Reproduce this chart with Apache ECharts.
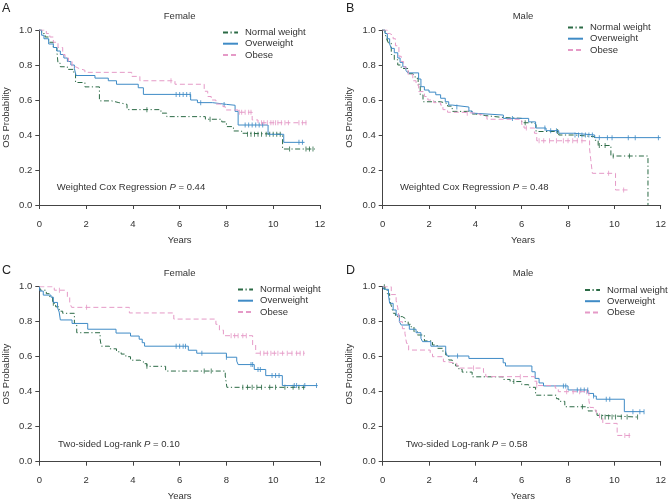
<!DOCTYPE html>
<html><head><meta charset="utf-8">
<script src="https://cdn.jsdelivr.net/npm/echarts@6/dist/echarts.min.js"></script>
<style>html,body{margin:0;padding:0;background:#fff}#c{width:669px;height:502px}</style>
</head><body><div id="c"></div>
<script>
// ---------------- DATA ----------------
const groups = ['Normal weight', 'Overweight', 'Obese'];
const xTicks = [0, 2, 4, 6, 8, 10, 12];
const yTicks = [0, 0.2, 0.4, 0.6, 0.8, 1.0];
const panelLetters = ['A', 'B', 'C', 'D'];
const panelTitles = ['Female', 'Male', 'Female', 'Male'];
const testNames = ['Weighted Cox Regression', 'Weighted Cox Regression', 'Two-sided Log-rank', 'Two-sided Log-rank'];
const testP = ['0.44', '0.48', '0.10', '0.58'];

// Kaplan-Meier steps: [time (years), survival from that time]
const A_normal = [[0,1],[0.1,0.98],[0.25,0.96],[0.4,0.93],[0.6,0.9],[0.75,0.88],[0.8,0.81],[0.9,0.79],[1.2,0.775],[1.45,0.76],[1.55,0.70],[1.95,0.675],[2.57,0.595],[3.1,0.585],[3.4,0.575],[3.75,0.545],[5.2,0.525],[5.45,0.505],[7.1,0.49],[7.8,0.475],[8.0,0.448],[8.3,0.423],[8.65,0.41],[8.8,0.404],[10.4,0.32],[11.78,0.32]];
const A_over = [[0,1],[0.1,0.97],[0.2,0.95],[0.4,0.92],[0.6,0.90],[0.75,0.88],[0.9,0.86],[1.05,0.84],[1.2,0.82],[1.35,0.80],[1.5,0.78],[1.57,0.74],[2.38,0.725],[2.95,0.71],[3.3,0.69],[4.23,0.67],[4.45,0.632],[6.47,0.60],[6.76,0.585],[7.4,0.575],[8.0,0.57],[8.37,0.535],[8.5,0.457],[9.78,0.404],[10.45,0.358],[11.34,0.358]];
const A_obese = [[0,1],[0.3,0.98],[0.45,0.96],[0.6,0.93],[0.8,0.90],[1.0,0.86],[1.1,0.84],[1.25,0.82],[1.4,0.79],[1.55,0.78],[1.7,0.77],[1.95,0.758],[3.95,0.735],[4.3,0.71],[5.8,0.69],[7.05,0.65],[7.2,0.62],[7.35,0.60],[7.55,0.577],[7.85,0.562],[7.95,0.543],[8.5,0.53],[9.1,0.486],[9.35,0.47],[11.42,0.47]];
const A_normal_cens = [4.6, 7.3, 8.9, 9.05, 9.2, 9.35, 9.5, 9.7, 9.85, 10.0, 10.15, 10.3, 10.7, 11.4, 11.55, 11.7];
const A_over_cens = [5.85, 6.0, 6.15, 6.3, 6.45, 6.9, 7.9, 8.8, 8.95, 9.1, 9.25, 9.4, 9.55, 11.1, 11.25];
const A_obese_cens = [5.63, 8.55, 8.65, 8.8, 8.95, 9.05, 9.5, 9.6, 9.75, 9.9, 10.0, 10.1, 10.2, 10.35, 10.5, 10.65, 11.1, 11.25, 11.4];

const B_normal = [[0,1],[0.1,0.98],[0.17,0.95],[0.25,0.925],[0.37,0.86],[0.5,0.83],[0.65,0.80],[0.8,0.78],[1.1,0.75],[1.3,0.74],[1.4,0.724],[1.53,0.69],[1.62,0.63],[1.74,0.59],[2.5,0.58],[2.8,0.565],[3.0,0.535],[3.85,0.52],[4.0,0.51],[4.5,0.50],[5.2,0.495],[6.0,0.47],[6.5,0.46],[6.62,0.42],[7.6,0.40],[8.3,0.39],[9.15,0.37],[9.3,0.34],[9.85,0.28],[11.45,0.0]];
const B_over = [[0,1],[0.1,0.98],[0.2,0.95],[0.3,0.92],[0.37,0.895],[0.5,0.87],[0.65,0.84],[0.75,0.815],[0.87,0.79],[1.0,0.77],[1.08,0.755],[1.55,0.72],[1.65,0.676],[1.8,0.657],[2.0,0.645],[2.29,0.63],[2.5,0.61],[2.7,0.59],[2.85,0.571],[3.0,0.56],[3.72,0.537],[3.86,0.524],[4.0,0.514],[5.21,0.495],[6.3,0.475],[6.6,0.44],[7.05,0.425],[7.6,0.41],[8.25,0.40],[9.15,0.385],[12.0,0.385]];
const B_obese = [[0,1],[0.2,0.98],[0.3,0.97],[0.45,0.95],[0.55,0.91],[0.7,0.85],[0.8,0.82],[0.9,0.79],[1.0,0.77],[1.1,0.745],[1.3,0.71],[1.44,0.686],[1.55,0.648],[1.8,0.62],[1.95,0.60],[2.2,0.585],[2.5,0.571],[2.6,0.545],[2.8,0.53],[3.4,0.525],[4.0,0.515],[4.3,0.505],[4.5,0.49],[6.0,0.46],[6.1,0.44],[6.55,0.41],[6.65,0.367],[8.93,0.32],[8.98,0.26],[9.05,0.181],[10.05,0.086],[10.57,0.086]];
const B_normal_cens = [0.2, 6.15, 7.55, 9.35, 9.6, 9.95, 10.65];
const B_over_cens = [3.2, 5.6, 7.0, 7.25, 7.5, 8.3, 8.45, 8.6, 8.75, 8.9, 9.05, 9.35, 9.7, 9.9, 10.6, 10.9, 11.9];
const B_obese_cens = [3.65, 6.2, 6.75, 6.95, 7.2, 7.5, 7.8, 8.0, 8.2, 8.4, 8.6, 9.75, 10.4];

const C_normal = [[0,1],[0.05,0.98],[0.3,0.96],[0.45,0.94],[0.57,0.905],[0.7,0.885],[0.85,0.86],[1.0,0.848],[1.5,0.79],[1.6,0.737],[2.6,0.70],[2.65,0.66],[3.0,0.645],[3.3,0.628],[3.5,0.615],[3.7,0.60],[3.9,0.58],[4.3,0.572],[4.45,0.56],[4.6,0.545],[5.4,0.518],[7.95,0.49],[8.02,0.425],[11.35,0.425]];
const C_over = [[0,1],[0.03,0.975],[0.17,0.952],[0.5,0.94],[0.6,0.91],[0.78,0.88],[0.85,0.855],[0.9,0.81],[1.4,0.79],[2.07,0.757],[3.28,0.735],[3.9,0.718],[4.27,0.70],[4.4,0.68],[4.5,0.66],[6.37,0.637],[6.73,0.62],[8.0,0.597],[8.44,0.575],[8.5,0.555],[9.19,0.527],[9.68,0.492],[10.39,0.435],[11.9,0.435]];
const C_obese = [[0,1],[0.64,0.98],[1.1,0.97],[1.2,0.94],[1.3,0.91],[1.38,0.882],[3.85,0.85],[5.75,0.815],[7.55,0.785],[7.7,0.752],[7.87,0.72],[9.12,0.667],[9.25,0.62],[11.35,0.62]];
const C_normal_cens = [0.6, 4.6, 7.05, 7.35, 8.7, 8.9, 9.1, 9.3, 9.5, 9.85, 10.1, 10.5, 10.85, 11.1, 11.3];
const C_over_cens = [5.85, 6.0, 6.15, 6.25, 6.95, 8.0, 9.05, 9.12, 9.35, 9.45, 9.95, 10.1, 10.25, 10.9, 11.0, 11.35, 11.85];
const C_obese_cens = [0.86, 2.02, 8.2, 8.35, 8.5, 8.7, 8.85, 9.45, 9.6, 9.75, 9.9, 10.05, 10.2, 10.4, 10.6, 10.8, 11.0, 11.15, 11.3];

const D_normal = [[0,1],[0.1,0.98],[0.2,0.96],[0.3,0.925],[0.38,0.886],[0.46,0.848],[0.55,0.829],[0.85,0.819],[0.97,0.80],[1.1,0.785],[1.22,0.771],[1.35,0.743],[1.5,0.724],[1.8,0.69],[2.15,0.667],[2.35,0.648],[2.6,0.629],[2.72,0.61],[2.85,0.581],[3.0,0.562],[3.15,0.547],[3.29,0.528],[3.43,0.512],[3.86,0.485],[5.2,0.47],[5.5,0.458],[6.0,0.44],[6.3,0.425],[6.6,0.38],[7.5,0.36],[7.6,0.345],[7.86,0.314],[8.86,0.29],[9.25,0.265],[9.4,0.255],[11.0,0.255]];
const D_over = [[0,1],[0.05,0.985],[0.25,0.952],[0.3,0.905],[0.45,0.867],[0.58,0.838],[0.72,0.80],[0.8,0.781],[1.15,0.757],[1.44,0.737],[1.65,0.705],[1.72,0.686],[2.08,0.66],[2.72,0.625],[2.79,0.604],[3.72,0.59],[5.2,0.565],[5.3,0.547],[6.44,0.514],[6.58,0.476],[6.75,0.45],[6.94,0.433],[8.0,0.41],[8.86,0.39],[9.1,0.375],[9.22,0.357],[10.43,0.286],[11.28,0.286]];
const D_obese = [[0,1],[0.37,0.955],[0.58,0.92],[0.65,0.88],[0.73,0.80],[0.85,0.76],[0.96,0.733],[1.03,0.676],[1.12,0.638],[2.05,0.615],[2.15,0.60],[2.62,0.572],[2.75,0.562],[3.2,0.548],[3.3,0.535],[4.35,0.51],[4.45,0.486],[6.55,0.46],[6.65,0.435],[7.45,0.42],[7.58,0.40],[8.9,0.35],[8.95,0.31],[9.1,0.295],[9.22,0.276],[9.36,0.248],[9.5,0.219],[10.12,0.15],[10.7,0.15]];
const D_normal_cens = [0.07, 5.66, 8.62, 9.45, 9.6, 9.75, 9.9, 10.05, 10.3, 10.55, 11.0];
const D_over_cens = [3.23, 7.8, 7.9, 8.4, 8.55, 8.7, 8.85, 9.1, 9.65, 9.8, 10.8, 11.1, 11.28];
const D_obese_cens = [3.92, 5.94, 6.65, 7.94, 8.22, 8.5, 8.8, 10.45, 10.64];

// ---------------- LAYOUT / STYLE ----------------
const curves = [[A_normal, A_over, A_obese],[B_normal, B_over, B_obese],[C_normal, C_over, C_obese],[D_normal, D_over, D_obese]];
const censors = [[A_normal_cens, A_over_cens, A_obese_cens],[B_normal_cens, B_over_cens, B_obese_cens],[C_normal_cens, C_over_cens, C_obese_cens],[D_normal_cens, D_over_cens, D_obese_cens]];
const colors = ['#2b6a45', '#3f8bc6', '#e59ac7'];
const dashes = [[5, 2.5, 1.2, 2.5], 'solid', [5, 3]];
const FONT = '"Liberation Sans", Arial, Helvetica, sans-serif';
const TXT = '#333';
const grids = [
  {left: 39.3, top: 30, width: 280.7, height: 175},
  {left: 382.7, top: 30, width: 280.6, height: 175},
  {left: 39.3, top: 286.7, width: 280.7, height: 175},
  {left: 382.7, top: 286.7, width: 280.6, height: 175}
];
const legendPos = [{left: 222, top: 27.5}, {left: 567, top: 22.5}, {left: 237, top: 284.5}, {left: 584, top: 285}];

function stepAt(curve, t) {
  let s = curve[0][1];
  for (const p of curve) { if (p[0] <= t + 1e-9) s = p[1]; else break; }
  return s;
}

const xAxis = [], yAxis = [], series = [], legend = [], graphic = [];
grids.forEach((g, p) => {
  xAxis.push({
    type: 'value', gridIndex: p, min: xTicks[0], max: xTicks[xTicks.length - 1],
    interval: xTicks[1] - xTicks[0], offset: 7, splitLine: {show: false},
    axisLine: {show: true, lineStyle: {color: '#444', width: 1}},
    axisTick: {show: true, length: 4, lineStyle: {color: '#444'}},
    axisLabel: {fontSize: 9.5, color: TXT, fontFamily: FONT, margin: 7}
  });
  yAxis.push({
    type: 'value', gridIndex: p, min: yTicks[0], max: yTicks[yTicks.length - 1],
    interval: yTicks[1] - yTicks[0], splitLine: {show: false},
    axisLine: {show: true, lineStyle: {color: '#444', width: 1}},
    axisTick: {show: true, length: 4, lineStyle: {color: '#444'}},
    axisLabel: {fontSize: 9.5, color: TXT, fontFamily: FONT, margin: 7, formatter: v => v.toFixed(1)}
  });
  groups.forEach((name, k) => {
    series.push({
      type: 'line', name, xAxisIndex: p, yAxisIndex: p, step: 'end', symbol: 'none',
      showSymbol: false, legendIcon: 'none',
      data: curves[p][k], color: colors[k],
      lineStyle: {color: colors[k], width: 1, type: dashes[k]},
      itemStyle: {color: colors[k]}, z: 3 + k
    });
    series.push({
      type: 'scatter', name: name + ' (censored)', xAxisIndex: p, yAxisIndex: p,
      symbol: 'rect', symbolSize: [1, 5], itemStyle: {color: colors[k]}, z: 3 + k,
      data: censors[p][k].map(t => [t, stepAt(curves[p][k], t)])
    });
  });
  legend.push({
    data: groups, orient: 'vertical', left: legendPos[p].left, top: legendPos[p].top,
    itemWidth: 15, itemHeight: 10, itemGap: 1.2, padding: 0, selectedMode: false,
    itemStyle: {opacity: 0, borderWidth: 0},
    textStyle: {fontSize: 9.5, color: TXT, fontFamily: FONT, padding: [0, 0, 0, 2]}
  });
  const cx = g.left + g.width / 2;
  const baseY = g.top - 30;
  graphic.push({type: 'text', x: (p % 2 ? 346 : 2), y: baseY + (p < 2 ? 2 : 7), style: {text: panelLetters[p], font: '12.5px ' + FONT, fill: '#222'}});
  graphic.push({type: 'text', x: cx, y: baseY + (p < 2 ? 16.7 : 16.3), style: {text: panelTitles[p], font: '9.5px ' + FONT, fill: TXT, align: 'center', verticalAlign: 'middle'}});
  graphic.push({type: 'text', x: cx, y: g.top + g.height + 35, style: {text: 'Years', font: '9.5px ' + FONT, fill: TXT, align: 'center', verticalAlign: 'middle'}});
  graphic.push({type: 'text', x: g.left - 33, y: g.top + g.height / 2, rotation: Math.PI / 2, style: {text: 'OS Probability', font: '9.5px ' + FONT, fill: TXT, align: 'center', verticalAlign: 'middle'}});
  const ax = (p === 0 ? 56.7 : p === 1 ? 400 : p === 2 ? 58 : 405.7);
  graphic.push({type: 'text', x: ax, y: g.top + g.height - 17.5, style: {
    text: '{a|' + testNames[p] + ' }{i|P}{a| = ' + testP[p] + '}',
    verticalAlign: 'middle',
    rich: {a: {fontSize: 9.5, fontFamily: FONT, fill: TXT, color: TXT}, i: {fontSize: 9.5, fontFamily: FONT, fontStyle: 'italic', fill: TXT, color: TXT}}
  }});
});

const chart = echarts.init(document.getElementById('c'), null, {renderer: 'canvas'});
chart.setOption({
  animation: false, backgroundColor: '#fff',
  grid: grids, xAxis, yAxis, series, legend, graphic
});
</script></body></html>
